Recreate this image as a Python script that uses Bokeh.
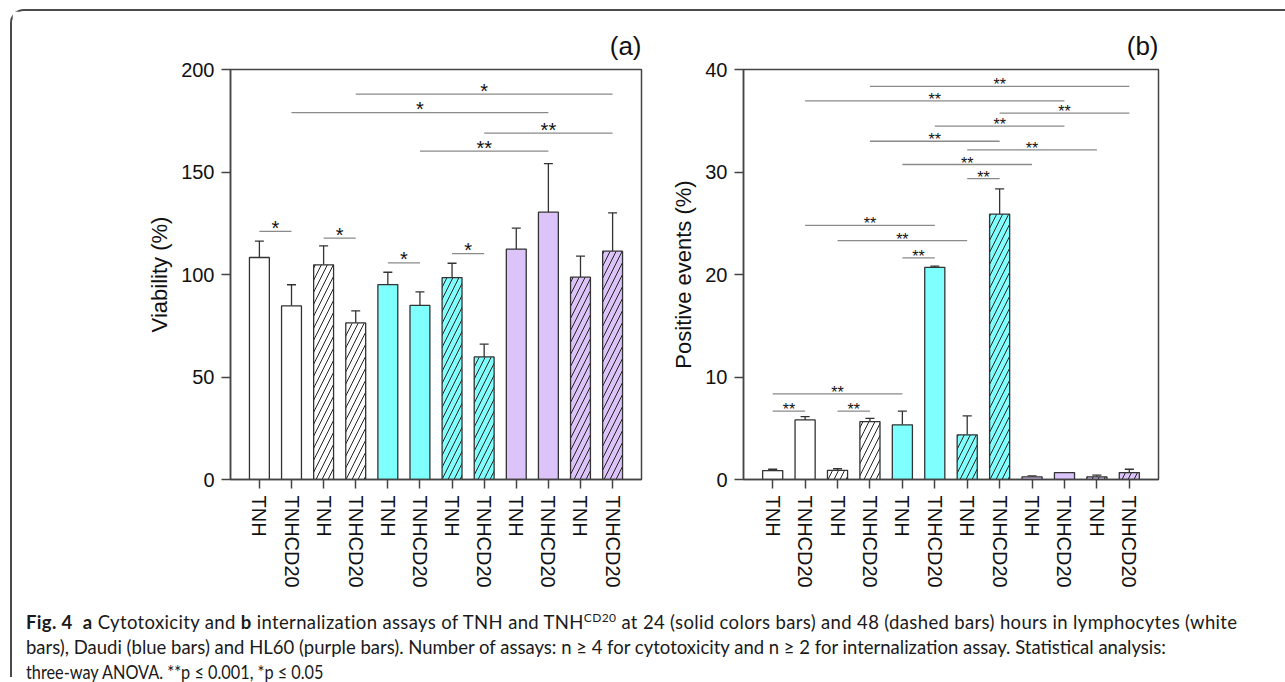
from bokeh.plotting import figure
from bokeh.models import Range1d, FixedTicker, Div, ColumnDataSource
from bokeh.layouts import row, column
from bokeh.core.properties import value
from bokeh.embed import file_html
from bokeh.resources import INLINE

# ---------------- data ----------------
tick_labels = ["TNH", "TNHCD20"] * 6
cells = ["Lymphocytes"] * 4 + ["Daudi"] * 4 + ["HL60"] * 4
hours = ["24", "24", "48", "48"] * 3

via_mean = [108.3, 84.7, 104.7, 76.4, 95.1, 84.9, 98.5, 59.8, 112.4, 130.4, 98.7, 111.4]
via_err = [8.0, 10.3, 9.3, 5.9, 6.0, 6.6, 7.0, 6.2, 10.2, 23.7, 10.3, 18.7]

pos_mean = [0.87, 5.81, 0.90, 5.65, 5.33, 20.70, 4.36, 25.89, 0.26, 0.68, 0.26, 0.68]
pos_err = [0.13, 0.32, 0.15, 0.32, 1.35, 0.12, 1.84, 2.46, 0.09, 0.0, 0.16, 0.32]

# significance comparisons (bar index from, bar index to, height, label)
sig_a_from = [0, 2, 4, 6, 5, 7, 1, 3]
sig_a_to = [1, 3, 5, 7, 9, 11, 9, 11]
sig_a_y = [121.0, 117.7, 105.7, 110.2, 160.2, 169.0, 179.0, 188.0]
sig_a_txt = ["*", "*", "*", "*", "**", "**", "*", "*"]

sig_b_from = [0, 2, 0, 4, 2, 1, 6, 4, 6, 3, 5, 7, 1, 3]
sig_b_to = [1, 3, 4, 5, 6, 5, 7, 8, 10, 7, 9, 11, 9, 11]
sig_b_y = [6.68, 6.68, 8.36, 21.63, 23.3, 24.8, 29.35, 30.73, 32.15, 33.0, 34.48, 35.74, 36.93, 38.35]
sig_b_txt = ["**"] * 14

# ---------------- styles ----------------
COLORS = {"Lymphocytes": "#FFFFFF", "Daudi": "#80FFFF", "HL60": "#DCC3F9"}
HATCH = {"24": " ", "48": "/"}
FONT = "Liberation Sans"
EDGE = "#333333"


def make_panel(title, means, errs, ymax, yticks, ylabel, sfrom, sto, sy, stxt,
               star_size, star_off, width, height, mbl, mbr, mbt, mbb):
    xs = list(range(len(means)))
    p = figure(width=width, height=height, output_backend="svg", toolbar_location=None,
               x_range=Range1d(-0.9, 11.9), y_range=Range1d(0, ymax),
               min_border_left=mbl, min_border_right=mbr, min_border_top=mbt,
               min_border_bottom=mbb, title=title)
    p.title.align = "right"
    p.title.text_font = FONT
    p.title.text_font_size = "26px"
    p.title.text_font_style = "normal"
    p.title.text_color = "#111111"
    p.title.standoff = 18
    p.xgrid.visible = False
    p.ygrid.visible = False
    p.outline_line_color = "#444444"
    p.outline_line_width = 1.5
    p.background_fill_color = "white"
    p.border_fill_color = "white"

    src = ColumnDataSource(dict(
        x=xs, top=means, err_top=[m + e for m, e in zip(means, errs)],
        cap_l=[x - 0.14 for x in xs], cap_r=[x + 0.14 for x in xs],
        fill=[COLORS[c] for c in cells], hatch=[HATCH[h] for h in hours],
    ))
    # error bars (upper only)
    p.segment(x0="x", y0="top", x1="x", y1="err_top", source=src,
              line_color=EDGE, line_width=1.3)
    p.segment(x0="cap_l", y0="err_top", x1="cap_r", y1="err_top", source=src,
              line_color=EDGE, line_width=1.3)
    p.vbar(x="x", top="top", bottom=0, width=0.62, source=src,
           fill_color="fill", line_color=EDGE, line_width=1.3,
           hatch_pattern="hatch", hatch_color="#222222", hatch_weight=1.0,
           hatch_scale=12)

    # significance lines
    ssrc = ColumnDataSource(dict(
        x0=sfrom, x1=sto, y=sy, txt=stxt,
        xm=[(a + b) / 2 for a, b in zip(sfrom, sto)],
    ))
    p.segment(x0="x0", y0="y", x1="x1", y1="y", source=ssrc,
              line_color="#8a8a8a", line_width=1.3)
    p.text(x="xm", y="y", text="txt", source=ssrc, text_align="center",
           text_baseline="alphabetic", y_offset=star_off,
           text_font=value(FONT), text_font_size=value(f"{star_size}px"),
           text_color="#111111")

    # axes
    p.xaxis.ticker = FixedTicker(ticks=xs)
    p.xaxis.major_label_overrides = {i: t for i, t in enumerate(tick_labels)}
    p.xaxis.major_label_orientation = "vertical"
    p.yaxis.ticker = FixedTicker(ticks=yticks)
    for ax in (p.xaxis, p.yaxis):
        ax.axis_line_color = "#444444"
        ax.axis_line_width = 1.5
        ax.major_tick_line_color = "#444444"
        ax.major_tick_line_width = 1.5
        ax.major_tick_in = 0
        ax.major_tick_out = 9
        ax.minor_tick_line_color = None
        ax.major_label_text_font = FONT
        ax.major_label_text_font_size = "20px"
        ax.major_label_text_color = "#111111"
        ax.major_label_standoff = 7
    p.yaxis.axis_label = ylabel
    p.yaxis.axis_label_text_font = FONT
    p.yaxis.axis_label_text_font_size = "22px"
    p.yaxis.axis_label_text_font_style = "normal"
    p.yaxis.axis_label_text_color = "#111111"
    p.yaxis.axis_label_standoff = 6
    return p


p1 = make_panel("(a)", via_mean, via_err, 200, [0, 50, 100, 150, 200], "Viability (%)",
                sig_a_from, sig_a_to, sig_a_y, sig_a_txt, 20, -3.5,
                width=638, height=586, mbl=218, mbr=9, mbt=58, mbb=118)
p2 = make_panel("(b)", pos_mean, pos_err, 40, [0, 10, 20, 30, 40], "Positive events (%)",
                sig_b_from, sig_b_to, sig_b_y, sig_b_txt, 16, -1.5,
                width=627, height=586, mbl=93, mbr=119, mbt=56, mbb=117)

caption_html = (
    '<div style="font-family: Lato, \'Open Sans\', sans-serif; font-size: 18.5px; '
    'line-height: 25px; white-space: nowrap; color: #1a1a1a; '
    'padding-left: 9px; padding-top: 3px;">'
    '<span style="letter-spacing: 0.35px;">'
    '<b>Fig. 4</b>&nbsp; <b>a</b> Cytotoxicity and <b>b</b> internalization assays of TNH and '
    'TNH<sup style="font-size:12px;">CD20</sup> at 24 (solid colors bars) and 48 (dashed bars) hours in '
    'lymphocytes (white</span><br>'
    '<span style="letter-spacing: 0px;">'
    'bars), Daudi (blue bars) and HL60 (purple bars). Number of assays: n &ge; 4 for cytotoxicity '
    'and n &ge; 2 for internalization assay. Statistical analysis:</span><br>'
    '<span style="display: inline-block; transform: scaleX(0.88); transform-origin: left center;">'
    'three-way ANOVA. **p &le; 0.001, *p &le; 0.05</span>'
    '</div>'
)
cap = Div(text=caption_html, width=1265, height=70)

layout = column(row(p1, p2), cap,
                styles={"border-top": "2px solid #4a4a4a", "border-left": "2px solid #4a4a4a",
                        "border-top-left-radius": "14px"},
                margin=(9, 0, 0, 10))

open("out.html", "w").write(file_html(layout, INLINE))
